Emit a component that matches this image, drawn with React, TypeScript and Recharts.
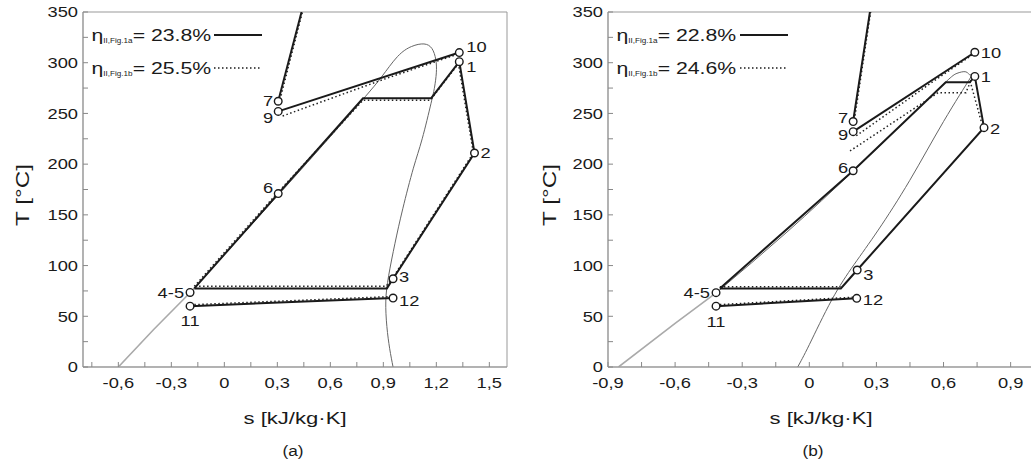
import React from 'react';
import { ComposedChart, Line, Scatter, XAxis, YAxis, ReferenceArea } from 'recharts';

// ---- panel (a) ----
const aDomeLow = [{ s: -0.6, T: 0 }, { s: -0.4, T: 37 }, { s: -0.19, T: 74 }];
const aDome = [
  { s: -0.19, T: 74 }, { s: 0.1, T: 130 }, { s: 0.4, T: 188 }, { s: 0.65, T: 237 },
  { s: 0.8, T: 267 }, { s: 0.89, T: 286 }, { s: 0.98, T: 306 }, { s: 1.06, T: 316 },
  { s: 1.13, T: 318.5 }, { s: 1.175, T: 314 }, { s: 1.197, T: 303 }, { s: 1.2, T: 290 },
  { s: 1.19, T: 276 }, { s: 1.17, T: 260 }, { s: 1.12, T: 225 }, { s: 1.07, T: 196 },
  { s: 1.01, T: 156 }, { s: 0.966, T: 122 }, { s: 0.93, T: 90 }, { s: 0.914, T: 65 },
  { s: 0.92, T: 40 }, { s: 0.936, T: 18 }, { s: 0.955, T: 0 },
];
const aCycleA = [
  { s: -0.17, T: 77.5 }, { s: 0.305, T: 171 }, { s: 0.785, T: 265 }, { s: 1.171, T: 265 },
  { s: 1.33, T: 301 }, { s: 1.416, T: 211 }, { s: 0.955, T: 87 }, { s: 0.92, T: 77.5 },
  { s: -0.17, T: 77.5 },
];
const aHot7A = [{ s: 0.305, T: 262 }, { s: 0.437, T: 350 }];
const aHot9A = [{ s: 0.305, T: 252 }, { s: 1.33, T: 310 }];
const aColdA = [{ s: -0.194, T: 60 }, { s: 0.955, T: 68 }];
const aCycleB = [
  { s: -0.17, T: 79.5 }, { s: 0.305, T: 172.5 }, { s: 0.785, T: 263 }, { s: 1.165, T: 263 },
  { s: 1.325, T: 299 }, { s: 1.41, T: 211 }, { s: 0.95, T: 87 }, { s: 0.915, T: 79.5 },
  { s: -0.17, T: 79.5 },
];
const aHot7B = [{ s: 0.31, T: 260 }, { s: 0.442, T: 350 }];
const aHot9B = [{ s: 0.33, T: 247.5 }, { s: 0.9, T: 283.5 }, { s: 1.33, T: 309 }];
const aColdB = [{ s: -0.17, T: 61.5 }, { s: 0.955, T: 69.5 }];
const aStates = [
  { name: '10', s: 1.33, T: 310 }, { name: '1', s: 1.33, T: 301 }, { name: '2', s: 1.416, T: 211 },
  { name: '7', s: 0.305, T: 262 }, { name: '9', s: 0.305, T: 252 }, { name: '6', s: 0.305, T: 171 },
  { name: '4-5', s: -0.194, T: 73.5 }, { name: '11', s: -0.194, T: 60 },
  { name: '3', s: 0.955, T: 87 }, { name: '12', s: 0.955, T: 68 },
];
const aTicksS = [-0.75, -0.6, -0.45, -0.3, -0.15, 0, 0.15, 0.3, 0.45, 0.6, 0.75, 0.9, 1.05, 1.2, 1.35, 1.5];
const aEta = ['23.8%', '25.5%'];

// ---- panel (b) ----
const bDomeLow = [{ s: -0.853, T: 0 }, { s: -0.6, T: 43 }, { s: -0.417, T: 73 }];
const bDome = [
  { s: -0.417, T: 73 }, { s: -0.1, T: 133 }, { s: 0.2, T: 194 }, { s: 0.45, T: 247 },
  { s: 0.61, T: 281 }, { s: 0.66, T: 289.5 }, { s: 0.7, T: 291 }, { s: 0.72, T: 288 },
  { s: 0.717, T: 284 }, { s: 0.6, T: 242 }, { s: 0.449, T: 184 }, { s: 0.308, T: 135 },
  { s: 0.2, T: 101 }, { s: 0.1, T: 66 }, { s: 0.0, T: 22 }, { s: -0.052, T: 0 },
];
const bCycleA = [
  { s: -0.4, T: 77.5 }, { s: 0.196, T: 193.5 }, { s: 0.61, T: 280.7 }, { s: 0.717, T: 280.7 },
  { s: 0.74, T: 286.5 }, { s: 0.781, T: 236 }, { s: 0.214, T: 95.6 }, { s: 0.141, T: 77.5 },
  { s: -0.4, T: 77.5 },
];
const bHot7A = [{ s: 0.196, T: 242.5 }, { s: 0.271, T: 350 }];
const bHot9A = [{ s: 0.196, T: 232 }, { s: 0.74, T: 310.3 }];
const bColdA = [{ s: -0.417, T: 60 }, { s: 0.212, T: 67.7 }];
const bCycleB = [
  { s: 0.182, T: 213 }, { s: 0.576, T: 270.5 }, { s: 0.7, T: 270.5 }, { s: 0.72, T: 281 },
  { s: 0.775, T: 237 },
];
const bCondB = [{ s: -0.4, T: 79 }, { s: 0.14, T: 79 }];
const bHot7B = [{ s: 0.199, T: 240 }, { s: 0.274, T: 350 }];
const bHot9B = [{ s: 0.21, T: 228 }, { s: 0.56, T: 282.5 }, { s: 0.74, T: 309.5 }];
const bColdB = [{ s: -0.4, T: 61.5 }, { s: 0.212, T: 69 }];
const bStates = [
  { name: '10', s: 0.74, T: 310.3 }, { name: '1', s: 0.74, T: 286.5 }, { name: '2', s: 0.781, T: 236 },
  { name: '7', s: 0.196, T: 242 }, { name: '9', s: 0.196, T: 232 }, { name: '6', s: 0.196, T: 193.5 },
  { name: '4-5', s: -0.417, T: 73.3 }, { name: '11', s: -0.417, T: 60 },
  { name: '3', s: 0.214, T: 95.6 }, { name: '12', s: 0.212, T: 67.7 },
];
const bTicksS = [-0.9, -0.75, -0.6, -0.45, -0.3, -0.15, 0, 0.15, 0.3, 0.45, 0.6, 0.75, 0.9];
const bEta = ['22.8%', '24.6%'];

const ticksT = [0, 25, 50, 75, 100, 125, 150, 175, 200, 225, 250, 275, 300, 325, 350];
const etaSubs = ['II,Fig.1a', 'II,Fig.1b'];

// label placement next to each state circle: [dx, dy, anchor]
const aLabelPos: Record<string, [number, number, string]> = {
  '10': [7, -6, 'start'], '1': [7, 5, 'start'], '2': [6, 0, 'start'], '7': [-5, -1, 'end'],
  '9': [-5, 6, 'end'], '6': [-5, -6, 'end'], '4-5': [-6, 0, 'end'], '11': [0, 15, 'middle'],
  '3': [6, -2, 'start'], '12': [6, 3, 'start'],
};
const bLabelPos: Record<string, [number, number, string]> = {
  '10': [6, 0, 'start'], '1': [6, 0, 'start'], '2': [6, 1, 'start'], '7': [-5, -4, 'end'],
  '9': [-5, 3, 'end'], '6': [-5, -3, 'end'], '4-5': [-6, 0, 'end'], '11': [0, 16, 'middle'],
  '3': [6, 5, 'start'], '12': [6, 1, 'start'],
};

const FONT = "'Liberation Sans', Arial, Helvetica, sans-serif";
const SX = 1.22;
const INK = '#1a1a1a';

const isMult = (v: number, step: number) => Math.abs(v / step - Math.round(v / step)) < 1e-6;
const fmtS = (v: number) => (Math.abs(v) < 1e-9 ? '0' : v.toFixed(1).replace('.', ','));

const Wide = ({ x, y, anchor = 'start', size = 15, sx = SX, rotate = 0, children }: any) => (
  <text
    transform={`translate(${x},${y}) rotate(${rotate}) scale(${sx},1)`}
    textAnchor={anchor}
    dy="0.35em"
    fontSize={size}
    fontFamily={FONT}
    fill={INK}
  >
    {children}
  </text>
);

const XTick = (p: any) => {
  const v = p.payload.value;
  if (!isMult(v, 0.3)) return <g />;
  return <Wide x={p.x} y={p.y + 9} anchor="middle">{fmtS(v)}</Wide>;
};
const YTick = (p: any) => {
  const v = p.payload.value;
  if (!isMult(v, 50)) return <g />;
  return <Wide x={p.x} y={p.y} anchor="end">{String(v)}</Wide>;
};

const makeState = (pos: Record<string, [number, number, string]>) => (p: any) => {
  const n = p.payload.name;
  const [dx, dy, anchor] = pos[n];
  return (
    <g>
      <circle cx={p.cx} cy={p.cy} r={3.8} fill="#fff" stroke={INK} strokeWidth={1.4} />
      <Wide x={p.cx + dx} y={p.cy + dy} anchor={anchor}>{n}</Wide>
    </g>
  );
};

const solid = (d: any[], k: string) => (
  <Line key={k} data={d} dataKey="T" type="linear" stroke={INK} strokeWidth={2} dot={false}
    activeDot={false} isAnimationActive={false} />
);
const dotted = (d: any[], k: string) => (
  <Line key={k} data={d} dataKey="T" type="linear" stroke="#222" strokeWidth={1.5}
    strokeDasharray="1.5 2.5" dot={false} activeDot={false} isAnimationActive={false} />
);

function Panel({ width, yw, mr, dom, ticks, domeLow, dome, dots, lines, states, pos }: any) {
  return (
    <ComposedChart width={width} height={466} margin={{ top: 12, right: mr, bottom: 69, left: 0 }}>
      <XAxis type="number" dataKey="s" domain={dom} ticks={ticks} interval={0} allowDataOverflow
        height={30} tickSize={-5} tickMargin={12} axisLine={{ stroke: '#999' }}
        tickLine={{ stroke: '#888' }} tick={XTick} />
      <YAxis type="number" dataKey="T" domain={[0, 350]} ticks={ticksT} interval={0} allowDataOverflow
        width={yw} tickSize={-5} tickMargin={10} axisLine={{ stroke: '#999' }}
        tickLine={{ stroke: '#888' }} tick={YTick} />
      <ReferenceArea x1={dom[0]} x2={dom[1]} y1={0} y2={350} fill="none" stroke="#999" strokeWidth={1} />
      <Line data={domeLow} dataKey="T" type="linear" stroke="#aaa" strokeWidth={1.6} dot={false}
        activeDot={false} isAnimationActive={false} />
      <Line data={dome} dataKey="T" type="natural" stroke="#666" strokeWidth={1} dot={false}
        activeDot={false} isAnimationActive={false} />
      {dots.map((d: any[], i: number) => dotted(d, 'd' + i))}
      {lines.map((d: any[], i: number) => solid(d, 's' + i))}
      <Scatter data={states} dataKey="T" shape={makeState(pos)} isAnimationActive={false} />
    </ComposedChart>
  );
}

const Legend = ({ x, eta, lx }: any) => (
  <g>
    {[0, 1].map((i) => {
      const y = i === 0 ? 35 : 68;
      return (
        <g key={i}>
          <text transform={`translate(${x},${y + 6}) scale(1.25,1)`} fontFamily={FONT} fill={INK}>
            <tspan fontSize={17}>η</tspan>
            <tspan fontSize={6.5} dy={2}>{etaSubs[i]}</tspan>
            <tspan fontSize={17} dy={-2}>{'= ' + eta[i]}</tspan>
          </text>
          <line x1={lx} x2={lx + 48} y1={y} y2={y} stroke={INK} strokeWidth={i === 0 ? 2 : 1.5}
            strokeDasharray={i === 0 ? undefined : '1.5 2.5'} />
        </g>
      );
    })}
  </g>
);

export default function App() {
  return (
    <div style={{ position: 'absolute', left: 0, top: 0, width: 1031, height: 466, overflow: 'hidden', background: '#fff' }}>
      <div style={{ position: 'absolute', left: 0, top: 0 }}>
        <Panel width={515} yw={83} mr={8} dom={[-0.8, 1.6]} ticks={aTicksS} domeLow={aDomeLow} dome={aDome}
          dots={[aCycleB, aHot7B, aHot9B, aColdB]} lines={[aCycleA, aHot7A, aHot9A, aColdA]}
          states={aStates} pos={aLabelPos} />
      </div>
      <div style={{ position: 'absolute', left: 515, top: 0 }}>
        <Panel width={518} yw={93} mr={0} dom={[-0.9, 1.0]} ticks={bTicksS} domeLow={bDomeLow} dome={bDome}
          dots={[bCycleB, bCondB, bHot7B, bHot9B, bColdB]} lines={[bCycleA, bHot7A, bHot9A, bColdA]}
          states={bStates} pos={bLabelPos} />
      </div>
      <svg width={1031} height={466} style={{ position: 'absolute', left: 0, top: 0, pointerEvents: 'none' }}>
        <Legend x={91.5} eta={aEta} lx={214} />
        <Legend x={616.5} eta={bEta} lx={740} />
        <Wide x={23} y={195} anchor="middle" size={18} sx={1.35} rotate={-90}>T [°C]</Wide>
        <Wide x={550} y={195} anchor="middle" size={18} sx={1.35} rotate={-90}>T [°C]</Wide>
        <Wide x={295} y={418} anchor="middle" size={17} sx={1.3}>s [kJ/kg·K]</Wide>
        <Wide x={821} y={418} anchor="middle" size={17} sx={1.3}>s [kJ/kg·K]</Wide>
        <Wide x={293} y={451} anchor="middle" size={15} sx={1.15}>(a)</Wide>
        <Wide x={813} y={451} anchor="middle" size={15} sx={1.15}>(b)</Wide>
      </svg>
    </div>
  );
}
